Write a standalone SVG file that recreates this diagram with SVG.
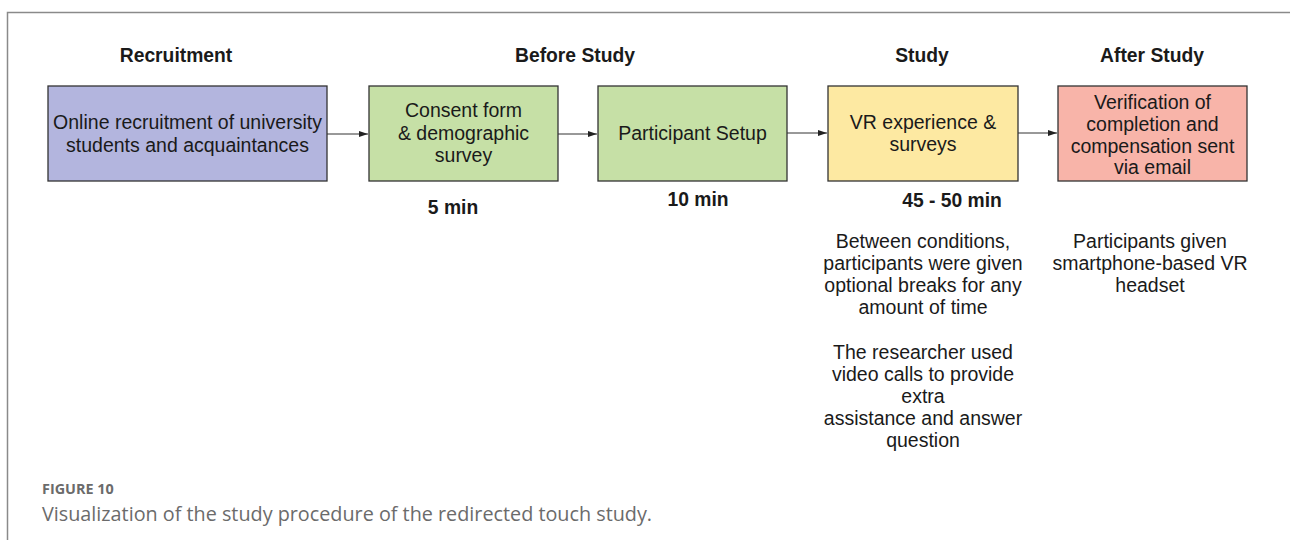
<svg xmlns="http://www.w3.org/2000/svg" width="1290" height="540" viewBox="0 0 1290 540">
<style>
.box{stroke:#333;stroke-width:1.3}
.t{font-family:"Liberation Sans",Arial,sans-serif;font-size:19.5px;fill:#1a1a1a;text-anchor:middle}
.h{font-family:"Liberation Sans",Arial,sans-serif;font-size:19.3px;font-weight:bold;fill:#1a1a1a;text-anchor:middle}
.c{stroke:#333;stroke-width:1;fill:none;marker-end:url(#ah)}
</style>
<defs>
<marker id="ah" markerWidth="10" markerHeight="8" refX="9" refY="4" orient="auto" markerUnits="userSpaceOnUse">
<path d="M0,1 L9,4 L0,7 Z" fill="#222"/>
</marker>
</defs>
<rect width="1290" height="540" fill="#fff"/>
<path d="M7.5,540 V12.5 H1290" fill="none" stroke="#8a8a8a" stroke-width="1.5"/>
<g id="headers">
<text class="h" x="176" y="62">Recruitment</text>
<text class="h" x="575" y="62">Before Study</text>
<text class="h" x="922" y="62">Study</text>
<text class="h" x="1152" y="62">After Study</text>
</g>
<g id="connectors">
<line class="c" x1="327" y1="134" x2="368" y2="134"/>
<line class="c" x1="558" y1="134" x2="597" y2="134"/>
<line class="c" x1="787" y1="133" x2="827" y2="133"/>
<line class="c" x1="1018" y1="133" x2="1057" y2="133"/>
</g>
<g id="n1">
<rect class="box" x="48" y="86" width="279" height="95" fill="#b3b5de"/>
<text class="t" x="187.5" y="129">Online recruitment of university</text>
<text class="t" x="187.5" y="152">students and acquaintances</text>
</g>
<g id="n2">
<rect class="box" x="369" y="86" width="189" height="95" fill="#c6e0a6"/>
<text class="t" x="463.5" y="117">Consent form</text>
<text class="t" x="463.5" y="140">&amp; demographic</text>
<text class="t" x="463.5" y="162">survey</text>
<text class="h" x="453" y="214">5 min</text>
</g>
<g id="n3">
<rect class="box" x="598" y="86" width="189" height="95" fill="#c6e0a6"/>
<text class="t" x="692.5" y="140">Participant Setup</text>
<text class="h" x="698" y="206">10 min</text>
</g>
<g id="n4">
<rect class="box" x="828" y="86" width="190" height="95" fill="#fde9a2"/>
<text class="t" x="923" y="129">VR experience &amp;</text>
<text class="t" x="923" y="151">surveys</text>
<text class="h" x="952" y="207">45 - 50 min</text>
<text class="t" x="923" y="248">Between conditions,</text>
<text class="t" x="923" y="270">participants were given</text>
<text class="t" x="923" y="292">optional breaks for any</text>
<text class="t" x="923" y="314">amount of time</text>
<text class="t" x="923" y="359">The researcher used</text>
<text class="t" x="923" y="381">video calls to provide</text>
<text class="t" x="923" y="403">extra</text>
<text class="t" x="923" y="425">assistance and answer</text>
<text class="t" x="923" y="447">question</text>
</g>
<g id="n5">
<rect class="box" x="1058" y="86" width="189" height="95" fill="#f8b4a9"/>
<text class="t" x="1152.5" y="109">Verification of</text>
<text class="t" x="1152.5" y="131">completion and</text>
<text class="t" x="1152.5" y="153">compensation sent</text>
<text class="t" x="1152.5" y="174">via email</text>
<text class="t" x="1150" y="248">Participants given</text>
<text class="t" x="1150" y="270">smartphone-based VR</text>
<text class="t" x="1150" y="292">headset</text>
</g>
<g id="caption">
<text x="42" y="494" font-family="'Open Sans',sans-serif" font-size="14.4px" font-weight="bold" fill="#6b6b6b">FIGURE 10</text>
<text x="42" y="521" font-family="'Open Sans',sans-serif" font-size="19.8px" fill="#6b6b6b">Visualization of the study procedure of the redirected touch study.</text>
</g>
</svg>
